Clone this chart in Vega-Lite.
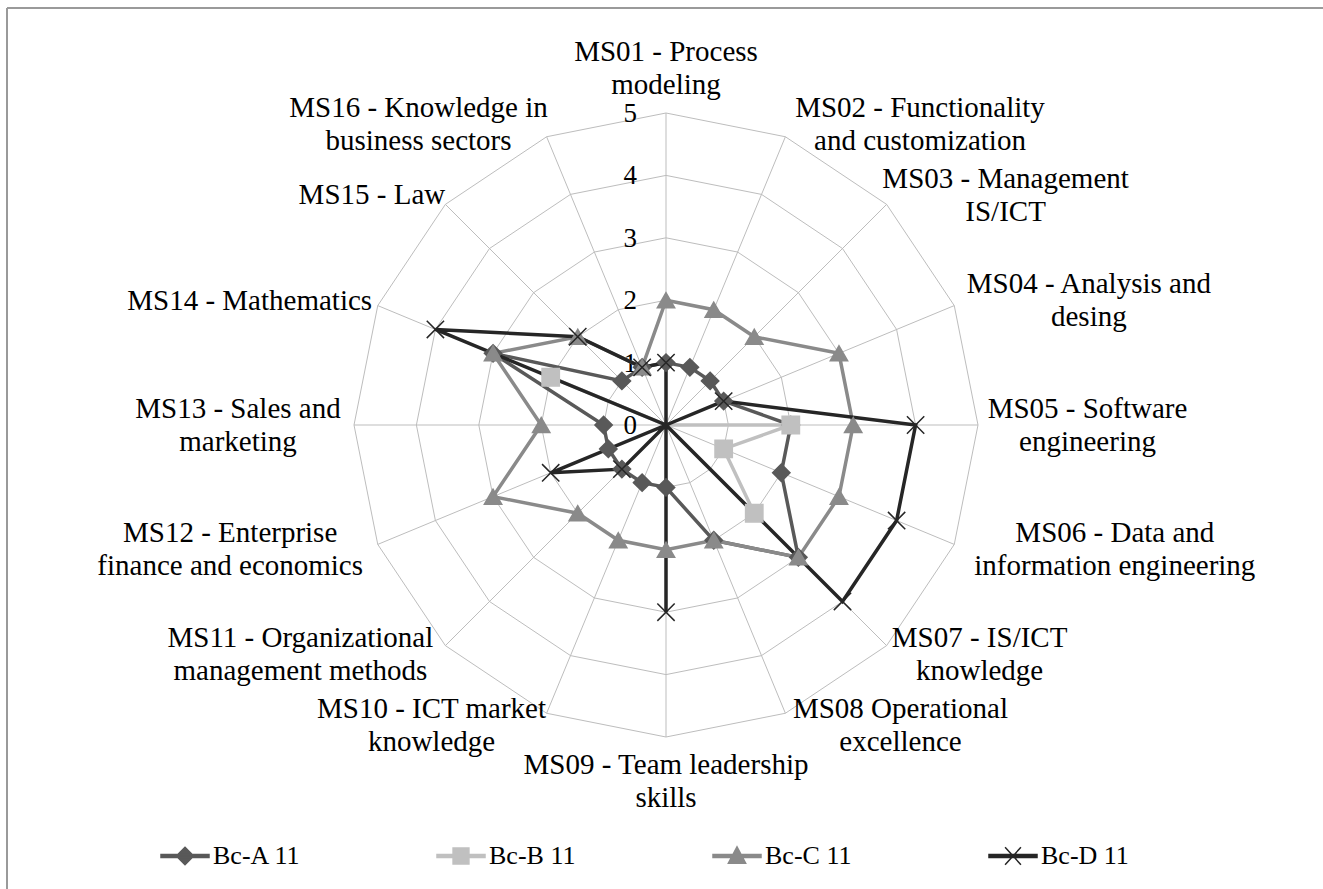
{
  "$schema": "https://vega.github.io/schema/vega-lite/v6.json",
  "width": 1316,
  "height": 881,
  "autosize": "none",
  "padding": {"left": 7, "top": 8, "right": 0, "bottom": 0},
  "background": "white",
  "config": {"view": {"stroke": null}, "font": "Liberation Serif"},
  "datasets": {
    "axes": [
      {"k": 0, "l1": "MS01 - Process", "l2": "modeling"},
      {"k": 1, "l1": "MS02 - Functionality", "l2": "and customization"},
      {"k": 2, "l1": "MS03 - Management", "l2": "IS/ICT"},
      {"k": 3, "l1": "MS04 - Analysis and", "l2": "desing"},
      {"k": 4, "l1": "MS05 - Software", "l2": "engineering"},
      {"k": 5, "l1": "MS06 - Data and", "l2": "information engineering"},
      {"k": 6, "l1": "MS07 - IS/ICT", "l2": "knowledge"},
      {"k": 7, "l1": "MS08  Operational", "l2": "excellence"},
      {"k": 8, "l1": "MS09 - Team leadership", "l2": "skills"},
      {"k": 9, "l1": "MS10 - ICT market", "l2": "knowledge"},
      {"k": 10, "l1": "MS11 - Organizational", "l2": "management methods"},
      {"k": 11, "l1": "MS12 - Enterprise", "l2": "finance and economics"},
      {"k": 12, "l1": "MS13 - Sales and", "l2": "marketing"},
      {"k": 13, "l1": "MS14 - Mathematics", "l2": ""},
      {"k": 14, "l1": "MS15 - Law", "l2": ""},
      {"k": 15, "l1": "MS16 - Knowledge in", "l2": "business sectors"}
    ],
    "scores": [
      {"k": 0, "axis": "MS01", "Bc-A 11": 1, "Bc-B 11": 0, "Bc-C 11": 2, "Bc-D 11": 1},
      {"k": 1, "axis": "MS02", "Bc-A 11": 1, "Bc-B 11": 0, "Bc-C 11": 2, "Bc-D 11": 0},
      {"k": 2, "axis": "MS03", "Bc-A 11": 1, "Bc-B 11": 0, "Bc-C 11": 2, "Bc-D 11": 0},
      {"k": 3, "axis": "MS04", "Bc-A 11": 1, "Bc-B 11": 0, "Bc-C 11": 3, "Bc-D 11": 1},
      {"k": 4, "axis": "MS05", "Bc-A 11": 2, "Bc-B 11": 2, "Bc-C 11": 3, "Bc-D 11": 4},
      {"k": 5, "axis": "MS06", "Bc-A 11": 2, "Bc-B 11": 1, "Bc-C 11": 3, "Bc-D 11": 4},
      {"k": 6, "axis": "MS07", "Bc-A 11": 3, "Bc-B 11": 2, "Bc-C 11": 3, "Bc-D 11": 4},
      {"k": 7, "axis": "MS08", "Bc-A 11": 2, "Bc-B 11": 0, "Bc-C 11": 2, "Bc-D 11": 0},
      {"k": 8, "axis": "MS09", "Bc-A 11": 1, "Bc-B 11": 0, "Bc-C 11": 2, "Bc-D 11": 3},
      {"k": 9, "axis": "MS10", "Bc-A 11": 1, "Bc-B 11": 0, "Bc-C 11": 2, "Bc-D 11": 0},
      {"k": 10, "axis": "MS11", "Bc-A 11": 1, "Bc-B 11": 0, "Bc-C 11": 2, "Bc-D 11": 1},
      {"k": 11, "axis": "MS12", "Bc-A 11": 1, "Bc-B 11": 0, "Bc-C 11": 3, "Bc-D 11": 2},
      {"k": 12, "axis": "MS13", "Bc-A 11": 1, "Bc-B 11": 0, "Bc-C 11": 2, "Bc-D 11": 0},
      {"k": 13, "axis": "MS14", "Bc-A 11": 3, "Bc-B 11": 2, "Bc-C 11": 3, "Bc-D 11": 4},
      {"k": 14, "axis": "MS15", "Bc-A 11": 1, "Bc-B 11": 0, "Bc-C 11": 2, "Bc-D 11": 2},
      {"k": 15, "axis": "MS16", "Bc-A 11": 1, "Bc-B 11": 0, "Bc-C 11": 1, "Bc-D 11": 1}
    ],
    "levels": [
      {"level": 0, "k": [0, 1, 2, 3, 4, 5, 6, 7, 8, 9, 10, 11, 12, 13, 14, 15]},
      {"level": 1, "k": [0, 1, 2, 3, 4, 5, 6, 7, 8, 9, 10, 11, 12, 13, 14, 15]},
      {"level": 2, "k": [0, 1, 2, 3, 4, 5, 6, 7, 8, 9, 10, 11, 12, 13, 14, 15]},
      {"level": 3, "k": [0, 1, 2, 3, 4, 5, 6, 7, 8, 9, 10, 11, 12, 13, 14, 15]},
      {"level": 4, "k": [0, 1, 2, 3, 4, 5, 6, 7, 8, 9, 10, 11, 12, 13, 14, 15]},
      {"level": 5, "k": [0, 1, 2, 3, 4, 5, 6, 7, 8, 9, 10, 11, 12, 13, 14, 15]}
    ]
  },
  "layer": [
    {
      "data": {"values": [{}]},
      "mark": {"type": "rule", "color": "#9a9a9a", "strokeWidth": 2},
      "encoding": {
        "x": {"datum": -10.5609, "type": "quantitative", "scale": {"domain": [-10.5609, 10.5288], "nice": false, "zero": false}, "axis": null},
        "y": {"datum": 6.6827, "type": "quantitative", "scale": {"domain": [-7.4359, 6.6827], "nice": false, "zero": false}, "axis": null},
        "x2": {"datum": 10.5288}
      }
    },
    {
      "data": {"values": [{}]},
      "mark": {"type": "rule", "color": "#9a9a9a", "strokeWidth": 2},
      "encoding": {
        "x": {"datum": -10.5609, "type": "quantitative"},
        "y": {"datum": 6.6827, "type": "quantitative"},
        "y2": {"datum": -7.4359}
      }
    },
    {
      "data": {"name": "axes"},
      "transform": [
        {"calculate": "5 * sin(datum.k * PI / 8)", "as": "sx"},
        {"calculate": "5 * cos(datum.k * PI / 8)", "as": "sy"}
      ],
      "mark": {"type": "rule", "color": "#bdbdbd", "strokeWidth": 1},
      "encoding": {
        "x": {"field": "sx", "type": "quantitative"},
        "y": {"field": "sy", "type": "quantitative"},
        "x2": {"datum": 0},
        "y2": {"datum": 0}
      }
    },
    {
      "data": {"name": "levels"},
      "transform": [
        {"filter": "datum.level > 0"},
        {"flatten": ["k"]},
        {"calculate": "datum.level * sin(datum.k * PI / 8)", "as": "rx"},
        {"calculate": "datum.level * cos(datum.k * PI / 8)", "as": "ry"}
      ],
      "mark": {"type": "line", "interpolate": "linear-closed", "color": "#bdbdbd", "strokeWidth": 1},
      "encoding": {
        "x": {"field": "rx", "type": "quantitative"},
        "y": {"field": "ry", "type": "quantitative"},
        "detail": {"field": "level", "type": "nominal"},
        "order": {"field": "k", "type": "quantitative"}
      }
    },
    {
      "data": {"name": "levels"},
      "mark": {"type": "text", "align": "right", "baseline": "middle", "dx": -29, "dy": 1, "fontSize": 27, "color": "#000000", "font": "Liberation Serif"},
      "encoding": {
        "x": {"datum": 0},
        "y": {"field": "level", "type": "quantitative"},
        "text": {"field": "level", "type": "quantitative"}
      }
    },
    {
      "data": {"name": "axes"},
      "transform": [
        {"calculate": "sin(datum.k * PI / 8)", "as": "s"},
        {"calculate": "cos(datum.k * PI / 8)", "as": "c"},
        {"calculate": "max(length(datum.l1), length(datum.l2)) * 6.5", "as": "hw"},
        {"calculate": "datum.l2 == '' ? 1 : 2", "as": "nl"},
        {"calculate": "abs(datum.s) < 0.1 ? 0 : 5 * datum.s + (datum.s > 0 ? 1 : -1) * (12 * abs(datum.s) + datum.hw) / 62.4", "as": "lx"},
        {"calculate": "(abs(datum.s) < 0.1 ? 5 * datum.c + (datum.c > 0 ? 1 : -1) * (datum.nl * 16.5 + 12) / 62.4 : 5 * datum.c + 13 * datum.c / 62.4) + (datum.nl - 1) * 16.5 / 62.4", "as": "ly"},
        {"calculate": "datum.l2 == '' ? datum.l1 : datum.l1 + '\\n' + datum.l2", "as": "label"}
      ],
      "mark": {"type": "text", "align": "center", "baseline": "middle", "lineBreak": "\n", "lineHeight": 33, "fontSize": 29, "color": "#000000", "font": "Liberation Serif"},
      "encoding": {
        "x": {"field": "lx", "type": "quantitative"},
        "y": {"field": "ly", "type": "quantitative"},
        "text": {"field": "label", "type": "nominal"}
      }
    },
    {
      "data": {"name": "scores"},
      "transform": [
        {"fold": ["Bc-A 11", "Bc-B 11", "Bc-C 11", "Bc-D 11"], "as": ["series", "value"]},
        {"calculate": "datum.value * sin(datum.k * PI / 8)", "as": "px"},
        {"calculate": "datum.value * cos(datum.k * PI / 8)", "as": "py"}
      ],
      "mark": {"type": "line", "interpolate": "linear-closed", "strokeWidth": 3.5},
      "encoding": {
        "x": {"field": "px", "type": "quantitative"},
        "y": {"field": "py", "type": "quantitative"},
        "stroke": {"field": "series", "type": "nominal", "scale": {"domain": ["Bc-A 11", "Bc-B 11", "Bc-C 11", "Bc-D 11"], "range": ["#595959", "#c0c0c0", "#8a8a8a", "#262626"]}},
        "order": {"field": "k", "type": "quantitative"}
      }
    },
    {
      "data": {"name": "scores"},
      "transform": [
        {"fold": ["Bc-A 11"], "as": ["series", "value"]},
        {"filter": "datum.value > 0"},
        {"calculate": "datum.value * sin(datum.k * PI / 8)", "as": "px"},
        {"calculate": "datum.value * cos(datum.k * PI / 8)", "as": "py"}
      ],
      "mark": {"type": "point", "shape": "diamond", "filled": true, "opacity": 1, "size": 300, "strokeWidth": 1.5},
      "encoding": {
        "x": {"field": "px", "type": "quantitative"},
        "y": {"field": "py", "type": "quantitative"},
        "fill": {"field": "series", "type": "nominal", "scale": {"domain": ["Bc-A 11", "Bc-B 11", "Bc-C 11", "Bc-D 11"], "range": ["#595959", "#c0c0c0", "#8a8a8a", "#262626"]}},
        "stroke": {"field": "series", "type": "nominal"}
      }
    },
    {
      "data": {"name": "scores"},
      "transform": [
        {"fold": ["Bc-B 11"], "as": ["series", "value"]},
        {"filter": "datum.value > 0"},
        {"calculate": "datum.value * sin(datum.k * PI / 8)", "as": "px"},
        {"calculate": "datum.value * cos(datum.k * PI / 8)", "as": "py"}
      ],
      "mark": {"type": "point", "shape": "square", "filled": true, "opacity": 1, "size": 300, "strokeWidth": 1.5},
      "encoding": {
        "x": {"field": "px", "type": "quantitative"},
        "y": {"field": "py", "type": "quantitative"},
        "fill": {"field": "series", "type": "nominal"},
        "stroke": {"field": "series", "type": "nominal"}
      }
    },
    {
      "data": {"name": "scores"},
      "transform": [
        {"fold": ["Bc-C 11"], "as": ["series", "value"]},
        {"filter": "datum.value > 0"},
        {"calculate": "datum.value * sin(datum.k * PI / 8)", "as": "px"},
        {"calculate": "datum.value * cos(datum.k * PI / 8)", "as": "py"}
      ],
      "mark": {"type": "point", "shape": "triangle-up", "filled": true, "opacity": 1, "size": 300, "strokeWidth": 1.5},
      "encoding": {
        "x": {"field": "px", "type": "quantitative"},
        "y": {"field": "py", "type": "quantitative"},
        "fill": {"field": "series", "type": "nominal"},
        "stroke": {"field": "series", "type": "nominal"}
      }
    },
    {
      "data": {"name": "scores"},
      "transform": [
        {"fold": ["Bc-D 11"], "as": ["series", "value"]},
        {"filter": "datum.value > 0"},
        {"calculate": "datum.value * sin(datum.k * PI / 8)", "as": "px"},
        {"calculate": "datum.value * cos(datum.k * PI / 8)", "as": "py"}
      ],
      "mark": {"type": "point", "shape": "M-1,-1L1,1M-1,1L1,-1", "filled": true, "opacity": 1, "size": 300, "strokeWidth": 1.5},
      "encoding": {
        "x": {"field": "px", "type": "quantitative"},
        "y": {"field": "py", "type": "quantitative"},
        "fill": {"field": "series", "type": "nominal"},
        "stroke": {"field": "series", "type": "nominal"}
      }
    },
    {
      "data": {"name": "scores"},
      "transform": [
        {"fold": ["Bc-A 11", "Bc-B 11", "Bc-C 11", "Bc-D 11"], "as": ["series", "value"]},
        {"filter": "datum.value < 0"}
      ],
      "mark": {"type": "point", "filled": true, "opacity": 1, "strokeWidth": 1.5},
      "encoding": {
        "x": {"field": "k", "type": "quantitative"},
        "y": {"field": "value", "type": "quantitative"},
        "stroke": {"field": "series", "type": "nominal"},
        "shape": {"field": "series", "type": "nominal", "scale": {"domain": ["Bc-A 11", "Bc-B 11", "Bc-C 11", "Bc-D 11"], "range": ["M-1,-0.06H1V0.06H-1ZM0,-0.36L0.36,0L0,0.36L-0.36,0Z", "M-1,-0.06H1V0.06H-1ZM-0.33,-0.33H0.33V0.33H-0.33Z", "M-1,-0.06H1V0.06H-1ZM0,-0.38L0.36,0.3H-0.36Z", "M-1,-0.06H1V0.06H-1ZM-0.33,-0.36L0.33,0.36M-0.33,0.36L0.33,-0.36"]}},
        "fill": {
          "field": "series", "type": "nominal",
          "legend": {
            "orient": "none", "legendX": 153, "legendY": 823, "direction": "horizontal", "columns": 4,
            "title": null, "padding": 0, "gridAlign": "all", "columnPadding": 133,
            "symbolSize": 2304, "symbolStrokeWidth": 1.5, "symbolOpacity": 1,
            "labelFont": "Liberation Serif", "labelFontSize": 26, "labelColor": "#000000", "labelOffset": 3, "labelLimit": 400
          }
        }
      }
    }
  ]
}
